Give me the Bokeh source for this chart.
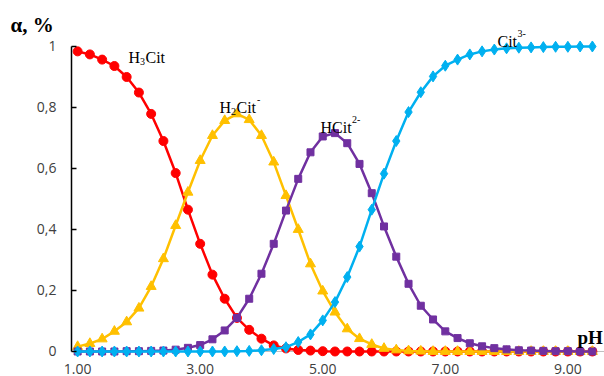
from bokeh.plotting import figure
from bokeh.models import Range1d, FixedTicker, Label, ColumnDataSource, Span
from bokeh.embed import file_html
from bokeh.resources import INLINE

ph = [1.0, 1.2, 1.4, 1.6, 1.8, 2.0, 2.2, 2.4, 2.6, 2.8, 3.0, 3.2, 3.4, 3.6, 3.8,
      4.0, 4.2, 4.4, 4.6, 4.8, 5.0, 5.2, 5.4, 5.6, 5.8, 6.0, 6.2, 6.4, 6.6, 6.8,
      7.0, 7.2, 7.4, 7.6, 7.8, 8.0, 8.2, 8.4, 8.6, 8.8, 9.0, 9.2, 9.4]

h3cit = [0.984, 0.974, 0.957, 0.936, 0.900, 0.849, 0.779, 0.690, 0.585, 0.465,
         0.353, 0.252, 0.173, 0.110, 0.071, 0.042, 0.020, 0.010, 0.005, 0.003,
         0.001, 0.0, 0.0, 0.0, 0.0, 0.0, 0.0, 0.0, 0.0, 0.0,
         0.0, 0.0, 0.0, 0.0, 0.0, 0.0, 0.0, 0.0, 0.0, 0.0, 0.0, 0.0, 0.0]

h2cit = [0.016, 0.026, 0.041, 0.066, 0.097, 0.142, 0.213, 0.304, 0.413, 0.522,
         0.626, 0.708, 0.757, 0.779, 0.760, 0.708, 0.621, 0.511, 0.400, 0.287,
         0.198, 0.129, 0.074, 0.042, 0.023, 0.010, 0.005, 0.002, 0.001, 0.0,
         0.0, 0.0, 0.0, 0.0, 0.0, 0.0, 0.0, 0.0, 0.0, 0.0, 0.0, 0.0, 0.0]

hcit = [0.0, 0.0, 0.0, 0.0, 0.001, 0.001, 0.002, 0.003, 0.006, 0.012,
        0.021, 0.040, 0.069, 0.110, 0.173, 0.255, 0.353, 0.462, 0.566, 0.653,
        0.705, 0.716, 0.683, 0.615, 0.519, 0.410, 0.311, 0.222, 0.150, 0.105,
        0.066, 0.044, 0.027, 0.017, 0.011, 0.007, 0.004, 0.003, 0.002, 0.001,
        0.001, 0.0, 0.0]

cit = [0.0, 0.0, 0.0, 0.0, 0.0, 0.0, 0.0, 0.0, 0.0, 0.0,
       0.0, 0.0, 0.0, 0.001, 0.002, 0.004, 0.008, 0.014, 0.031, 0.056,
       0.102, 0.162, 0.244, 0.344, 0.465, 0.583, 0.690, 0.785, 0.850, 0.902,
       0.937, 0.957, 0.974, 0.984, 0.990, 0.994, 0.996, 0.997, 0.998, 0.999,
       0.999, 1.0, 1.0]

x_ticks = [1, 3, 5, 7, 9]
x_tick_labels = ["1.00", "3.00", "5.00", "7.00", "9.00"]
y_ticks = [0, 0.2, 0.4, 0.6, 0.8, 1]
y_tick_labels = ["0", "0,2", "0,4", "0,6", "0,8", "1"]

p = figure(width=604, height=376, x_range=Range1d(0.9, 9.598), y_range=Range1d(-0.0197, 1.0721),
           output_backend="svg", toolbar_location=None, title="\u03b1, %",
           min_border_left=71, min_border_right=0, min_border_top=24, min_border_bottom=19)
p.xgrid.visible = False
p.ygrid.visible = False
p.outline_line_color = None
p.background_fill_color = "white"
p.border_fill_color = "white"

p.title.text_font = "Liberation Serif"
p.title.text_font_size = "21px"
p.title.text_font_style = "bold"
p.title.text_color = "black"
p.title.align = "left"
p.title.offset = -61
p.title.standoff = -24

# horizontal axis line at alpha = 0 (under the series)
p.add_layout(Span(location=0, dimension="width", line_color="#bfbfbf",
                  line_width=1, level="underlay"))

xa = p.xaxis[0]
xa.ticker = FixedTicker(ticks=x_ticks)
xa.major_label_overrides = {float(t): l for t, l in zip(x_ticks, x_tick_labels)}
xa.axis_line_color = None
xa.major_tick_line_color = None
xa.minor_tick_line_color = None
xa.major_label_text_font = "Open Sans"
xa.major_label_text_font_size = "14px"
xa.major_label_text_color = "#404040"
xa.major_label_standoff = 0

ya = p.yaxis[0]
ya.ticker = FixedTicker(ticks=y_ticks)
ya.bounds = (0, 1)
ya.major_label_overrides = {float(t): l for t, l in zip(y_ticks, y_tick_labels)}
ya.axis_line_color = "black"
ya.axis_line_width = 1.5
ya.major_tick_in = 5
ya.major_tick_out = 0
ya.major_tick_line_color = "black"
ya.major_tick_line_width = 1.5
ya.minor_tick_line_color = None
ya.major_label_text_font = "Open Sans"
ya.major_label_text_font_size = "14px"
ya.major_label_text_color = "#404040"
ya.major_label_standoff = 15

src = ColumnDataSource(dict(ph=ph, h3=h3cit, h2=h2cit, h1=hcit, c=cit))
series = [
    ("h3", "#ff0000", "circle", 9),
    ("h2", "#ffc000", "triangle", 10),
    ("h1", "#7030a0", "square", 7),
    ("c", "#00b0f0", "diamond", 11),
]
for col, color, marker, size in series:
    p.line("ph", col, source=src, line_color=color, line_width=2.5)
    p.scatter("ph", col, source=src, marker=marker, size=size,
              fill_color=color, line_color=color)


def dx(px):
    return 0.9 + (px - 71) / 61.28


def dy(py):
    return (351 - py) / 305


def txt(t, px, py, size, bold=False, font="Liberation Serif", color="black"):
    p.add_layout(Label(x=dx(px), y=dy(py), text=t, text_font=font,
                       text_font_size=size, text_color=color,
                       text_font_style="bold" if bold else "normal",
                       text_align="left", text_baseline="alphabetic"))


# species labels
txt("H", 128, 57.5, "16px"); txt("3", 139.6, 61.5, "10px"); txt("Cit", 145, 57.5, "16px")
txt("H", 219, 107, "16px"); txt("2", 230.6, 111, "10px"); txt("Cit", 236, 107, "16px"); txt("-", 256.5, 99, "10px")
txt("H", 320, 127, "16px"); txt("Cit", 331.6, 127, "16px"); txt("2-", 351.5, 119, "10px")
txt("Cit", 497, 41, "16px"); txt("3-", 517, 33, "10px")

# x axis title
txt("pH", 577, 337, "19px", bold=True)

open("out.html", "w").write(file_html(p, INLINE))
